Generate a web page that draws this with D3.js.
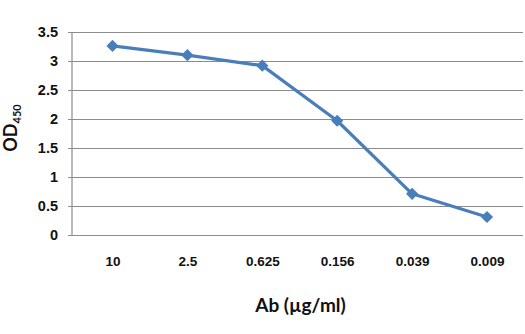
<!DOCTYPE html>
<html><head><meta charset="utf-8">
<script src="https://cdn.jsdelivr.net/npm/d3@7"></script>
<style>body{margin:0;background:#fff;} svg{display:block;font-family:Lato,"Open Sans",sans-serif;}</style>
</head><body>
<svg id="c" width="525" height="334"></svg>
<script>
const categories = ["10","2.5","0.625","0.156","0.039","0.009"];
const odValues = [3.26, 3.10, 2.92, 1.97, 0.71, 0.31];
const yTicks = [0,0.5,1,1.5,2,2.5,3,3.5];
const yTickLabels = ["0","0.5","1","1.5","2","2.5","3","3.5"];

const svg = d3.select("#c");
const L = 72, R = 523, T = 32, B = 235;
const x = d3.scalePoint().domain(categories).range([L + 40.5, R - 36]);
const y = d3.scaleLinear().domain([0,3.5]).range([B, T]);

// gridlines
const yAxis = d3.axisLeft(y).tickValues(yTicks).tickFormat((d,i)=>yTickLabels[i])
  .tickSize(-(R - L)).tickPadding(0);
const gy = svg.append("g").attr("transform",`translate(${L},0)`).call(yAxis);
gy.select(".domain").remove();
gy.selectAll(".tick line").attr("stroke","#8c8c8c").attr("stroke-width",1.2).attr("x1",-4);
gy.selectAll(".tick text").attr("x",-14).attr("fill","#111").attr("font-size",14.5).attr("font-weight","bold");

// y axis line
svg.append("line").attr("x1",L).attr("x2",L).attr("y1",T).attr("y2",B).attr("stroke","#8c8c8c").attr("stroke-width",1.2);

// x axis labels
const xAxis = d3.axisBottom(x).tickSize(0).tickPadding(21);
const gx = svg.append("g").attr("transform",`translate(0,${B})`).call(xAxis);
gx.select(".domain").remove();
gx.selectAll(".tick text").attr("fill","#111").attr("font-size",13.5).attr("font-weight","bold");

// line
const line = d3.line().x((d,i)=>x(categories[i])).y(d=>y(d));
svg.append("path").datum(odValues).attr("d",line).attr("fill","none")
  .attr("stroke","#4a7ebb").attr("stroke-width",3.2).attr("stroke-linejoin","round");

// markers
svg.selectAll("path.m").data(odValues).join("path").attr("class","m")
  .attr("d", d3.symbol().type(d3.symbolDiamond2).size(95))
  .attr("transform",(d,i)=>`translate(${x(categories[i])},${y(d)})`)
  .attr("fill","#4a7ebb");

// axis titles
svg.append("text").attr("x",(L+R)/2+3).attr("y",312).attr("text-anchor","middle")
  .attr("font-size",19).attr("font-weight","bold").attr("fill","#111").text("Ab (µg/ml)");
const yt = svg.append("text").attr("transform","translate(17,128) rotate(-90)").attr("text-anchor","middle")
  .attr("font-size",18).attr("font-weight","bold").attr("fill","#111");
yt.append("tspan").text("OD");
yt.append("tspan").attr("font-size",11).attr("dy",4).text("450");
</script>
</body></html>
